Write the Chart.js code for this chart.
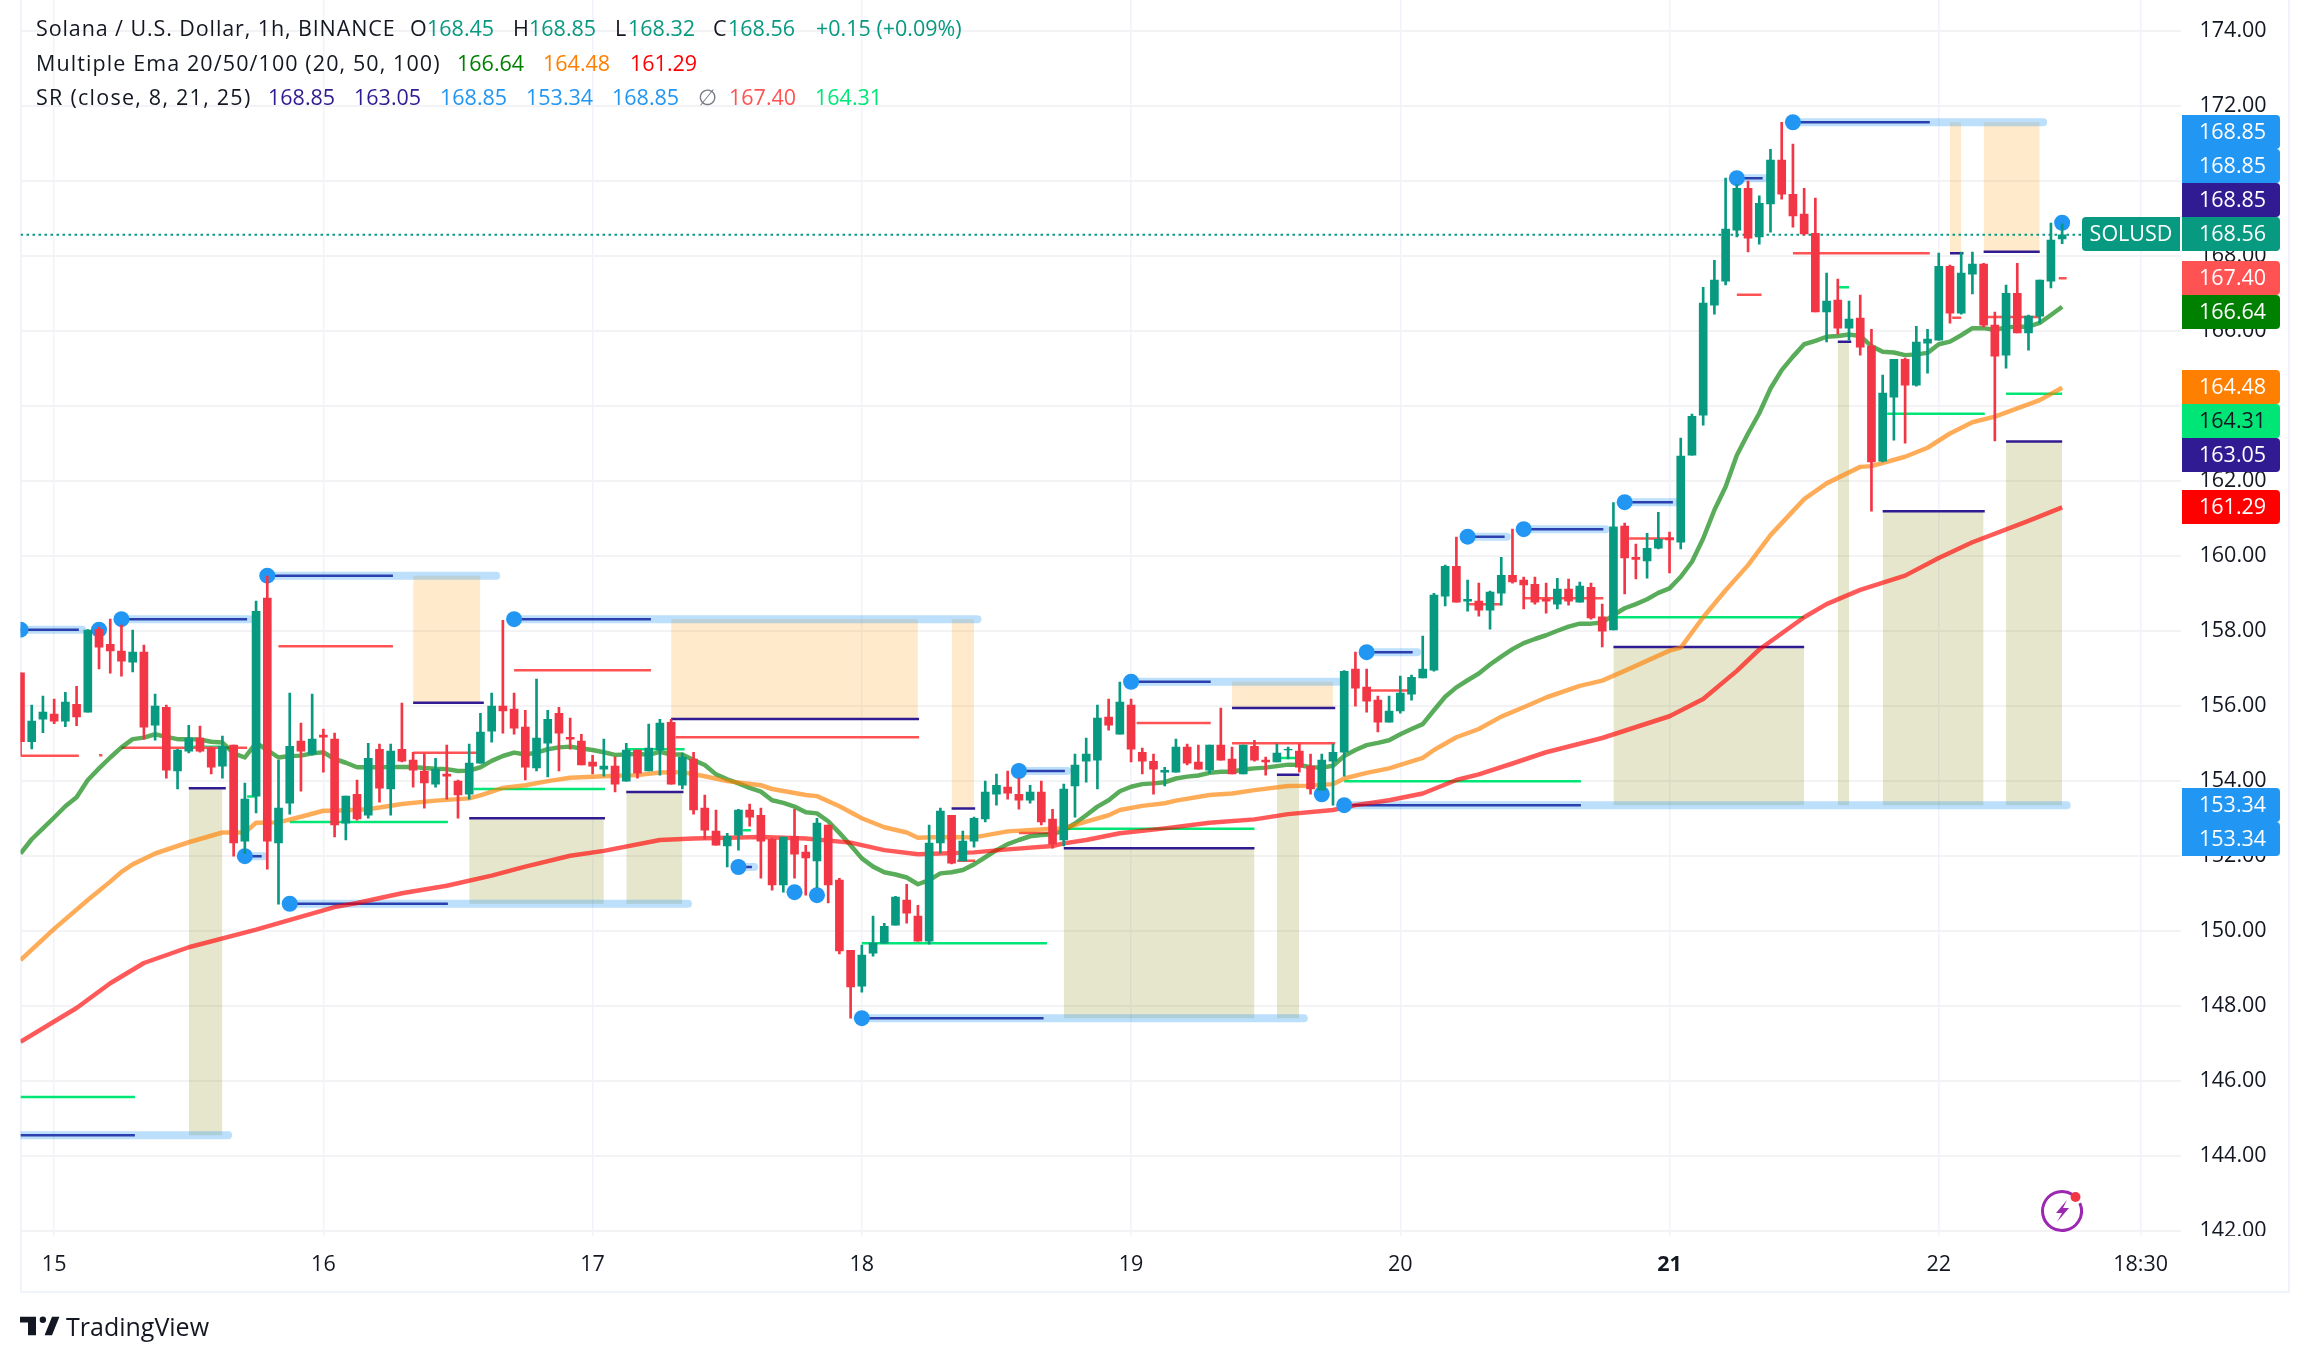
<!DOCTYPE html>
<html>
<head>
<meta charset="utf-8">
<title>SOLUSD 1h</title>
<script src="https://cdn.jsdelivr.net/npm/chart.js@4"></script>
<style>
    html, body { margin: 0; padding: 0; background: #fff; }
    #page { position: relative; width: 2308px; height: 1362px; overflow: hidden; font-family: "Open Sans", sans-serif; color: #131722; }
    #frame { position: absolute; left: 20px; top: 0; width: 2266px; height: 1291px; border: 2px solid #f0f3fa; border-top: none; }
    #chart { position: absolute; left: 0; top: 0; }
    .t { position: absolute; font-size: 21.5px; line-height: 26px; white-space: nowrap; }
    #logo { position: absolute; left: 20px; top: 1315px; }
    #brand { position: absolute; left: 66px; top: 1311px; font-size: 25px; line-height: 30px; color: #131722; }
</style>
</head>
<body>
<div id="page">
    <div id="frame"></div>
    <canvas id="chart" width="2308" height="1362"></canvas>
    <div id="legend"></div>
    <svg id="logo" width="40" height="22" viewBox="0 6 35 16"><path fill="#131722" d="M14 6H0v5h7v11h7V6zM28 22h-6.5L28 6h6.5z"/><circle fill="#131722" cx="20" cy="8.5" r="2.8"/></svg>
    <div id="brand">TradingView</div>
</div>
<script>
document.addEventListener('DOMContentLoaded', function () {
    // candles, one per hour
    const candleOpen = [
        156.88,155.04,155.64,155.78,155.59,156.04,155.83,158.04,157.64,157.46,
        157.16,157.43,155.48,155.96,154.26,154.79,155.14,154.87,154.39,154.95,
        152.39,153.59,158.87,152.34,153.40,155.06,154.71,155.22,155.11,152.87,
        153.64,153.08,154.84,153.78,154.84,154.55,154.26,153.91,154.18,153.99,
        153.64,154.47,155.32,155.99,155.91,155.43,154.34,155.00,155.80,155.16,
        155.06,154.50,154.31,154.39,153.99,154.82,154.26,154.82,155.56,153.88,
        154.58,153.27,152.66,152.26,152.55,153.22,153.08,152.44,151.22,152.52,
        152.10,151.86,152.82,151.35,149.48,148.52,149.40,149.67,150.15,150.82,
        150.39,149.72,152.34,153.08,151.86,152.39,152.98,153.64,153.83,153.64,
        153.48,153.70,152.98,152.42,153.86,154.52,154.55,155.70,155.24,156.02,
        154.76,154.52,154.23,154.23,154.90,154.50,154.28,154.95,154.58,154.18,
        154.92,154.55,154.50,154.82,154.79,154.39,153.75,154.52,154.76,156.98,
        156.50,156.15,155.56,155.86,156.31,156.74,156.95,158.92,159.72,158.79,
        158.79,158.55,159.00,159.48,159.35,159.24,158.84,158.71,159.11,158.76,
        159.16,158.37,158.02,160.79,159.96,159.86,160.20,160.47,160.36,162.68,
        163.75,166.68,167.32,168.68,169.80,168.50,169.38,170.55,169.64,169.11,
        168.60,166.50,166.82,166.07,166.34,165.59,162.52,164.23,165.24,164.55,
        165.67,165.75,167.72,166.47,167.51,167.78,166.15,165.35,167.00,165.94,
        166.39,167.32,168.45];
    const candleHigh = [
        156.88,156.02,156.26,156.18,156.36,156.52,158.03,158.10,158.31,158.15,
        158.02,157.62,156.31,156.02,154.84,155.48,155.46,154.90,155.19,154.95,
        153.94,158.79,159.46,154.55,156.34,155.54,156.31,155.38,155.27,153.59,
        154.02,155.00,154.98,154.98,156.07,154.76,154.71,154.60,154.95,154.02,
        154.98,155.80,156.34,158.28,156.34,155.88,156.71,155.88,155.96,155.67,
        155.24,154.68,155.11,154.63,155.00,154.82,155.51,155.64,155.64,154.74,
        154.76,153.62,153.22,152.60,153.24,153.38,153.27,152.47,152.50,153.24,
        152.28,153.00,152.82,151.40,149.48,149.62,150.39,150.20,150.92,151.24,
        150.68,152.82,153.27,153.08,152.66,153.03,153.99,154.18,154.26,154.07,
        153.88,153.99,153.24,153.91,154.71,155.14,156.02,156.18,156.63,156.18,
        154.87,154.71,154.36,155.11,154.98,154.95,154.95,155.94,154.90,154.95,
        155.08,154.63,154.98,154.90,154.98,154.71,154.71,154.98,156.94,157.43,
        156.98,156.26,156.26,156.79,156.82,157.86,159.00,159.75,160.50,159.35,
        159.27,159.06,159.96,160.71,159.43,159.43,159.27,159.40,159.38,159.30,
        159.27,158.71,161.42,160.87,160.31,160.60,161.16,160.63,163.14,163.78,
        167.16,167.88,170.07,169.90,169.99,169.60,170.84,171.56,170.98,169.80,
        169.54,167.54,167.38,166.79,166.95,166.04,164.82,165.24,165.27,166.12,
        166.04,168.07,167.75,168.10,168.10,167.80,166.50,167.22,167.80,166.42,
        167.35,168.87,168.85];
    const candleLow = [
        154.68,154.85,155.28,155.52,155.44,155.47,155.83,156.98,156.87,156.79,
        156.90,155.11,155.08,154.07,153.78,154.74,154.76,154.18,154.07,151.99,
        152.06,153.14,151.64,150.71,153.11,153.72,154.68,154.23,152.50,152.42,
        152.95,153.00,153.43,153.08,154.50,153.83,153.27,153.83,153.51,153.00,
        153.51,154.47,155.03,155.27,155.24,154.02,154.26,154.10,154.26,154.84,
        154.42,154.18,154.12,153.70,153.99,154.07,154.26,154.15,153.91,153.78,
        153.11,152.44,152.28,151.70,152.15,152.79,151.40,151.08,151.03,151.40,
        150.95,151.15,150.74,149.38,147.67,148.36,149.32,149.67,150.15,150.20,
        149.72,149.64,152.07,151.78,151.86,152.23,152.90,153.35,153.51,153.24,
        153.40,152.82,152.20,152.26,153.03,153.96,153.78,155.35,155.24,154.50,
        154.18,153.64,153.86,154.23,154.42,154.31,154.20,154.55,154.18,154.18,
        154.52,154.15,154.50,154.58,154.23,153.64,153.75,153.35,154.12,155.99,
        155.83,155.30,155.56,155.80,156.15,156.74,156.92,158.66,158.76,158.52,
        158.39,158.04,158.68,159.27,158.58,158.71,158.47,158.58,158.68,158.76,
        158.31,157.57,158.02,158.98,159.38,159.40,160.18,159.54,160.18,162.68,
        163.48,166.44,167.22,168.50,168.10,168.31,168.63,169.51,168.76,168.55,
        166.50,165.70,165.91,165.75,165.35,161.19,162.50,163.08,163.00,164.52,
        164.87,165.75,166.20,166.44,166.98,166.10,163.06,165.00,165.94,165.48,
        166.20,167.14,168.32];
    const candleClose = [
        155.04,155.59,155.83,155.59,156.10,155.70,158.02,157.56,157.46,157.19,
        157.43,155.43,155.99,154.28,154.82,155.14,154.79,154.36,154.92,152.34,
        153.51,158.52,152.39,153.27,154.92,154.79,155.11,155.16,152.82,153.59,
        152.98,154.60,153.80,154.79,154.52,154.28,153.94,154.31,154.12,153.62,
        154.47,155.30,155.99,155.86,155.40,154.36,155.14,155.64,155.27,155.11,
        154.42,154.39,154.39,153.91,154.82,154.20,154.87,155.54,153.91,154.63,
        153.22,152.68,152.28,152.52,153.22,153.03,152.39,151.22,152.50,152.04,
        151.94,152.87,151.22,149.46,148.50,149.35,149.67,150.12,150.90,150.47,
        149.72,152.34,153.19,151.80,152.39,153.00,153.70,153.88,153.67,153.48,
        153.70,152.90,152.31,153.78,154.42,154.71,155.67,155.48,156.10,154.84,
        154.52,154.31,154.28,154.90,154.47,154.31,154.95,154.55,154.18,154.95,
        154.55,154.50,154.74,154.84,154.36,153.78,154.55,154.76,156.92,156.47,
        156.12,155.56,155.86,156.34,156.76,156.98,158.95,159.72,158.76,158.84,
        158.55,159.03,159.48,159.30,159.22,158.76,158.79,159.11,158.79,159.19,
        158.34,157.99,160.77,159.94,159.90,160.20,160.44,160.42,162.66,163.72,
        166.74,167.35,168.71,169.80,168.47,169.40,170.55,169.64,169.06,168.58,
        166.50,166.79,166.07,166.31,165.56,162.50,164.34,165.24,164.55,165.70,
        165.78,167.72,166.47,167.54,167.78,166.15,165.32,167.00,165.94,166.39,
        167.35,168.42,168.56];

    // EMA 20 per candle, EMA 50 and 100 as [candle, value] readings
    const ema20 = [
        152.06,152.44,152.73,153.02,153.32,153.56,154.02,154.33,154.62,154.89,
        155.11,155.15,155.24,155.17,155.11,155.11,155.10,155.04,155.02,154.73,
        154.62,155.01,154.82,154.62,154.66,154.67,154.73,154.76,154.58,154.48,
        154.36,154.36,154.36,154.37,154.37,154.37,154.34,154.32,154.31,154.26,
        154.27,154.36,154.53,154.66,154.75,154.70,154.75,154.84,154.89,154.91,
        154.86,154.82,154.76,154.69,154.70,154.72,154.69,154.77,154.70,154.70,
        154.55,154.42,154.17,154.04,153.93,153.81,153.71,153.48,153.41,153.31,
        153.16,153.13,152.92,152.61,152.28,151.93,151.71,151.56,151.50,151.42,
        151.24,151.35,151.53,151.56,151.62,151.77,151.96,152.15,152.31,152.42,
        152.52,152.55,152.57,152.68,152.86,153.08,153.31,153.48,153.72,153.84,
        153.91,153.93,153.96,154.06,154.11,154.14,154.21,154.24,154.24,154.30,
        154.33,154.35,154.39,154.43,154.42,154.36,154.35,154.40,154.66,154.82,
        154.95,155.01,155.08,155.24,155.38,155.51,155.88,156.24,156.49,156.68,
        156.86,157.10,157.31,157.51,157.67,157.78,157.88,158.00,158.11,158.19,
        158.19,158.22,158.42,158.60,158.71,158.84,159.01,159.13,159.44,159.84,
        160.46,161.22,161.84,162.68,163.26,163.80,164.46,164.95,165.31,165.64,
        165.73,165.84,165.86,165.90,165.86,165.59,165.44,165.42,165.35,165.37,
        165.41,165.64,165.71,165.88,166.07,166.07,166.02,166.09,166.11,166.11,
        166.21,166.42,166.64];
    const ema50 = [
        [0,149.22],[3,150.05],[6,150.82],[8,151.31],[9,151.57],[10,151.77],[12,152.06],[15,152.36],[18,152.62],[20,152.62],
        [21,152.88],[23,152.89],[25,153.04],[27,153.20],[28,153.20],[31,153.24],[34,153.38],[37,153.47],[40,153.53],[41,153.61],
        [43,153.81],[45,153.88],[47,153.99],[49,154.08],[52,154.12],[55,154.15],[57,154.22],[59,154.23],[61,154.12],[63,153.99],
        [66,153.88],[67,153.78],[70,153.62],[71,153.59],[73,153.32],[75,153.00],[77,152.76],[79,152.62],[80,152.48],[82,152.50],
        [85,152.49],[88,152.65],[92,152.72],[93,152.73],[95,152.91],[97,153.08],[98,153.22],[100,153.33],[102,153.40],[103,153.47],
        [106,153.62],[108,153.66],[110,153.75],[113,153.86],[115,153.87],[117,153.91],[118,154.06],[120,154.21],[122,154.33],[125,154.61],
        [126,154.82],[128,155.16],[130,155.38],[132,155.71],[134,155.96],[136,156.22],[139,156.53],[141,156.67],[143,156.93],[147,157.47],
        [148,157.55],[150,158.36],[152,159.08],[154,159.75],[155,160.15],[156,160.55],[159,161.51],[161,161.93],[164,162.37],[165,162.39],
        [168,162.64],[170,162.88],[172,163.26],[174,163.56],[176,163.71],[178,163.93],[180,164.15],[182,164.48]];
    const ema100 = [
        [0,147.04],[5,147.94],[8,148.60],[11,149.14],[15,149.56],[21,150.03],[28,150.63],[30,150.74],[34,151.00],[38,151.20],
        [42,151.47],[45,151.71],[49,152.00],[52,152.13],[57,152.42],[60,152.46],[66,152.50],[70,152.46],[74,152.35],[77,152.15],
        [80,152.04],[85,152.09],[88,152.17],[92,152.26],[93,152.33],[95,152.42],[98,152.60],[102,152.73],[106,152.88],[110,152.97],
        [113,153.11],[117,153.22],[119,153.35],[122,153.48],[125,153.66],[128,154.02],[130,154.17],[133,154.46],[136,154.76],[141,155.14],
        [147,155.72],[150,156.18],[153,156.93],[155,157.50],[159,158.36],[161,158.71],[164,159.09],[168,159.47],[171,159.94],[174,160.36],
        [179,160.93],[182,161.29]];

    // SR indicator, [from candle, to candle, level]
    const navyLevels = [
        [0,5.2,158.03],[9,20.2,158.31],[22,33.2,159.47],[44,56.2,158.31],[20,21.5,151.99],[24,38.1,150.72],[64,65.2,151.70],
        [75,91.2,147.67],[89,93.1,154.26],[99,106.1,156.64],[118,139.1,153.35],[120,124.1,157.43],[129,132.3,160.51],[134,141.1,160.71],
        [143,147.3,161.43],[153,155.3,170.07],[158,170.2,171.56],[0,10.2,144.55],
        [15,18.3,153.80],[35,41.3,156.08],[40,52.1,153.00],[54,59.1,153.70],[58,80.1,155.65],[83,85.1,153.26],[93,110,152.20],
        [108,117.2,155.94],[112,114,154.16],[142,159,157.57],[162,163.2,165.71],[166,175.1,161.19],[177,182,163.05],[172,173.2,168.07],[175,180,168.11]];
    const paleLevels = [
        [0,5.5,158.03],[9,20.4,158.31],[22,42.4,159.47],[44,85.3,158.31],[20,21.7,151.99],[24,59.5,150.72],[64,65.4,151.70],
        [75,114.4,147.67],[89,93.3,154.26],[99,117.4,156.64],[118,182.4,153.35],[120,124.5,157.43],[129,132.5,160.51],[134,141.3,160.71],
        [143,147.6,161.43],[153,155.5,170.07],[158,180.3,171.56],[0,18.5,144.55]];
    const redLevels = [
        [0,5.2,154.67],[7,7.3,154.68],[9,20.2,154.88],[23,33.2,157.59],[35,40.7,154.75],[44,56.2,156.95],[58.4,80.1,155.16],[83.5,85.1,151.87],
        [89,92,152.61],[99.5,106.1,155.54],[108,117.2,155.00],[120.3,124,156.41],[129,132,158.71],[134,141.1,158.87],[143.4,147.4,160.46],
        [153,155.2,166.96],[158,170.2,168.07],[172.2,173,166.35],[175.3,180,166.37],[181.7,182.4,167.40]];
    const greenLevels = [
        [0,10.2,145.57],[15.4,18,154.91],[20.2,21,153.58],[24,38.1,152.90],[40.4,52.1,153.78],[54,59.2,154.84],[64.4,65.1,152.68],[75,91.5,149.67],
        [93,110,152.72],[112.3,113.8,154.61],[118,139.1,153.99],[142,159,158.36],[162,163,167.16],[166.4,175.1,163.79],[177,182,164.32]];
    // [from candle, to candle, top, bottom]
    const oliveZones = [
        [15,18,153.80,144.55],[40,52,153.00,150.72],[54,59,153.70,150.72],[93,110,152.20,147.67],[112,114,154.16,147.67],
        [142,159,157.57,153.35],[162,163,165.71,153.35],[166,175,161.19,153.35],[177,182,163.05,153.35]];
    const peachZones = [
        [35,41,159.47,156.08],[58,80,158.31,155.65],[83,85,158.31,153.26],[108,117,156.64,155.94],[172,173,171.56,168.07],[175,180,171.56,168.11]];
    // [candle, price]
    const pivotDots = [
        [0,158.03],[7,158.03],[9,158.31],[22,159.47],[44,158.31],[20,151.99],[24,150.72],[64,151.70],[69,151.03],[71,150.95],[75,147.67],
        [89,154.26],[99,156.64],[116,153.64],[118,153.35],[120,157.43],[129,160.51],[134,160.71],[143,161.43],[153,170.07],[158,171.56],[182,168.88]];

    const lastPrice = 168.56;
    const priceTicks = [142,144,146,148,150,152,154,156,158,160,162,164,166,168,170,172,174];
    const timeTicks = [3,27,51,75,99,123,147,171,189];
    const timeLabels = ['15','16','17','18','19','20','21','22','18:30'];

    const tagValues = ['168.85','168.85','168.85','168.56','167.40','166.64','164.48','164.31','163.05','161.29','153.34','153.34'];
    const tagFills = ['#2196f3','#2196f3','#311b92','#089981','#ff5252','#008000','#ff7f00','#00e676','#311b92','#ff0000','#2196f3','#2196f3'];
    const tagCenters = [132,166,200,234,278,312,387,421,455,507,805,839];

    const UP = '#089981';
    const DOWN = '#f23645';
    const BLUE = '#2196f3';
    const NAVY = '#311b92';
    const FONT = '"Open Sans", sans-serif';

    function buildLegend() {
        const rows = [
            [28, 0.9, [[36,'Solana / U.S. Dollar, 1h, BINANCE','#131722'],[410,'O','#131722'],[427,'168.45',UP],[513,'H','#131722'],[529,'168.85',UP],
                  [615,'L','#131722'],[628,'168.32',UP],[713,'C','#131722'],[728,'168.56',UP],[816,'+0.15 (+0.09%)',UP]]],
            [63, 1.1, [[36,'Multiple Ema 20/50/100 (20, 50, 100)','#131722'],[457,'166.64','#008000'],[543,'164.48','#ff7f00'],[630,'161.29','#ff0000']]],
            [97, 1.25, [[36,'SR (close, 8, 21, 25)','#131722'],[268,'168.85',NAVY],[354,'163.05',NAVY],[440,'168.85',BLUE],[526,'153.34',BLUE],
                  [612,'168.85',BLUE],[698,'\u2205','#787b86'],[729,'167.40','#ff5252'],[815,'164.31','#00e676']]]
        ];
        const legend = document.getElementById('legend');
        rows.forEach(function (row) {
            row[2].forEach(function (item, i) {
                const span = document.createElement('span');
                span.className = 't';
                span.style.left = item[0] + 'px';
                span.style.top = (row[0] - 13) + 'px';
                span.style.color = item[2];
                if (i === 0) {
                    span.style.letterSpacing = row[1] + 'px';
                }
                span.textContent = item[1];
                legend.appendChild(span);
            });
        });
    }

    function segmentDataset(seg, color, width, order, cap) {
        return {
            type: 'line',
            data: [{ x: seg[0], y: seg[2] }, { x: seg[1], y: seg[2] }],
            borderColor: color,
            borderWidth: width,
            borderCapStyle: cap || 'butt',
            pointRadius: 0,
            order: order
        };
    }

    function zoneDataset(zone, color) {
        return {
            type: 'line',
            data: [{ x: zone[0], y: zone[2] }, { x: zone[1], y: zone[2] }],
            borderWidth: 0,
            pointRadius: 0,
            backgroundColor: color,
            fill: { value: zone[3] },
            order: 9
        };
    }

    function emaDataset(points, color) {
        return {
            type: 'line',
            data: points,
            borderColor: color,
            borderWidth: 4.5,
            borderJoinStyle: 'round',
            pointRadius: 0,
            order: 4
        };
    }

    const candleIndex = candleOpen.map((v, i) => i);
    const candleColors = candleOpen.map((v, i) => candleClose[i] >= v ? UP : DOWN);

    const datasets = [];
    oliveZones.forEach(z => datasets.push(zoneDataset(z, 'rgba(128,128,0,0.2)')));
    peachZones.forEach(z => datasets.push(zoneDataset(z, 'rgba(255,152,0,0.2)')));
    navyLevels.forEach(s => datasets.push(segmentDataset(s, NAVY, 2.5, 8)));
    paleLevels.forEach(s => datasets.push(segmentDataset(s, 'rgba(33,150,243,0.3)', 8, 7, 'round')));
    redLevels.forEach(s => datasets.push(segmentDataset(s, '#ff5252', 2.5, 6)));
    greenLevels.forEach(s => datasets.push(segmentDataset(s, '#00e676', 2.5, 6)));
    datasets.push(emaDataset(ema100.map(p => ({ x: p[0], y: p[1] })), 'rgba(255,0,0,0.65)'));
    datasets.push(emaDataset(ema50.map(p => ({ x: p[0], y: p[1] })), 'rgba(255,127,0,0.65)'));
    datasets.push(emaDataset(ema20.map((v, i) => ({ x: i, y: v })), 'rgba(0,128,0,0.65)'));
    datasets.push({
        type: 'line',
        data: pivotDots.map(p => ({ x: p[0], y: p[1] })),
        showLine: false,
        pointRadius: 8,
        pointBackgroundColor: BLUE,
        pointBorderWidth: 0,
        order: 3
    });
    datasets.push({
        type: 'line',
        data: [{ x: 0, y: lastPrice }, { x: 183.8, y: lastPrice }],
        borderColor: UP,
        borderWidth: 2,
        borderDash: [2.5, 3.5],
        pointRadius: 0,
        order: 2
    });
    datasets.push({
        type: 'bar',
        data: candleIndex.map(i => ({ x: i, y: [candleLow[i], candleHigh[i]] })),
        backgroundColor: candleColors,
        barThickness: 2,
        grouped: false,
        borderSkipped: false,
        order: 1
    });
    datasets.push({
        type: 'bar',
        data: candleIndex.map(i => ({ x: i, y: [candleOpen[i], candleClose[i]] })),
        backgroundColor: candleColors,
        barThickness: 8,
        grouped: false,
        borderSkipped: false,
        order: 0
    });

    // price tags, the cut-off 142.00 label, the SOLUSD flag and the little flash icon
    const overlays = {
        id: 'overlays',
        // the plot has to run right up to the top edge of the page
        afterLayout: function (chart) {
            const area = chart.chartArea;
            const yScale = chart.scales.y;
            area.top = 0;
            area.bottom = 1236;
            area.height = 1236;
            yScale.top = 0;
            yScale.bottom = 1236;
            yScale.height = 1236;
            yScale.configure();
        },
        afterDraw: function (chart) {
            const ctx = chart.ctx;
            const area = chart.chartArea;
            ctx.save();
            ctx.fillStyle = '#ffffff';
            ctx.fillRect(area.right + 1, area.bottom, 100, 26);

            ctx.font = '21.5px ' + FONT;
            ctx.textBaseline = 'middle';
            ctx.textAlign = 'center';

            ctx.fillStyle = UP;
            ctx.beginPath();
            ctx.roundRect(2082, 217, 98, 34, [4, 0, 0, 4]);
            ctx.fill();
            ctx.fillStyle = '#ffffff';
            ctx.fillText('SOLUSD', 2131, 235);

            ctx.textAlign = 'left';
            tagValues.forEach(function (text, i) {
                ctx.fillStyle = tagFills[i];
                ctx.beginPath();
                ctx.roundRect(2182, tagCenters[i] - 17, 98, 34, [0, 4, 4, 0]);
                ctx.fill();
                ctx.fillStyle = tagFills[i] === '#00e676' ? '#131722' : '#ffffff';
                ctx.fillText(text, 2199, tagCenters[i] + 1);
            });

            ctx.strokeStyle = '#9c27b0';
            ctx.lineWidth = 3;
            ctx.beginPath();
            ctx.arc(2062, 1211, 19.5, -1.0, -1.0 - 5.7, true);
            ctx.stroke();
            ctx.fillStyle = '#9c27b0';
            ctx.beginPath();
            ctx.moveTo(2067, 1200);
            ctx.lineTo(2056, 1213);
            ctx.lineTo(2062, 1213);
            ctx.lineTo(2057, 1222);
            ctx.lineTo(2069, 1208);
            ctx.lineTo(2063, 1208);
            ctx.closePath();
            ctx.fill();
            ctx.fillStyle = '#f23645';
            ctx.beginPath();
            ctx.arc(2075.5, 1197, 5, 0, Math.PI * 2);
            ctx.fill();
            ctx.restore();
        }
    };

    buildLegend();

    new Chart(document.getElementById('chart').getContext('2d'), {
        type: 'bar',
        data: { datasets: datasets },
        plugins: [overlays],
        options: {
            responsive: false,
            animation: false,
            devicePixelRatio: 1,
            layout: { padding: { left: 20.5, right: 20, top: 0, bottom: 70 } },
            plugins: { legend: { display: false }, tooltip: { enabled: false }, title: { display: false } },
            scales: {
                x: {
                    type: 'linear',
                    offset: false,
                    min: 0,
                    max: 192.55,
                    border: { display: false },
                    grid: { color: '#f0f3fa', lineWidth: 1.5, drawTicks: false, offset: false },
                    afterBuildTicks: function (scale) {
                        scale.ticks = timeTicks.map(value => ({ value: value }));
                    },
                    afterFit: function (scale) {
                        scale.height = 56;
                        scale.paddingLeft = 0;
                        scale.paddingRight = 0;
                    },
                    ticks: {
                        autoSkip: false,
                        maxRotation: 0,
                        padding: 16,
                        color: '#131722',
                        font: function (ctx) {
                            const bold = ctx.tick && ctx.tick.value === 147;
                            return { family: FONT, size: 21.5, weight: bold ? 'bold' : 'normal' };
                        },
                        callback: function (value) {
                            return timeLabels[timeTicks.indexOf(value)];
                        }
                    }
                },
                y: {
                    position: 'right',
                    min: 141.86,
                    max: 174.82,
                    border: { display: false },
                    grid: { color: '#f3f3f5', lineWidth: 2, drawTicks: false },
                    afterBuildTicks: function (scale) {
                        scale.ticks = priceTicks.map(value => ({ value: value }));
                    },
                    afterFit: function (scale) {
                        scale.width = 107.5;
                        scale.paddingTop = 0;
                        scale.paddingBottom = 0;
                    },
                    ticks: {
                        autoSkip: false,
                        padding: 19,
                        color: '#131722',
                        font: { family: FONT, size: 21.5 },
                        callback: function (value) {
                            return value.toFixed(2);
                        }
                    }
                }
            }
        }
    });
});
</script>
</body>
</html>
